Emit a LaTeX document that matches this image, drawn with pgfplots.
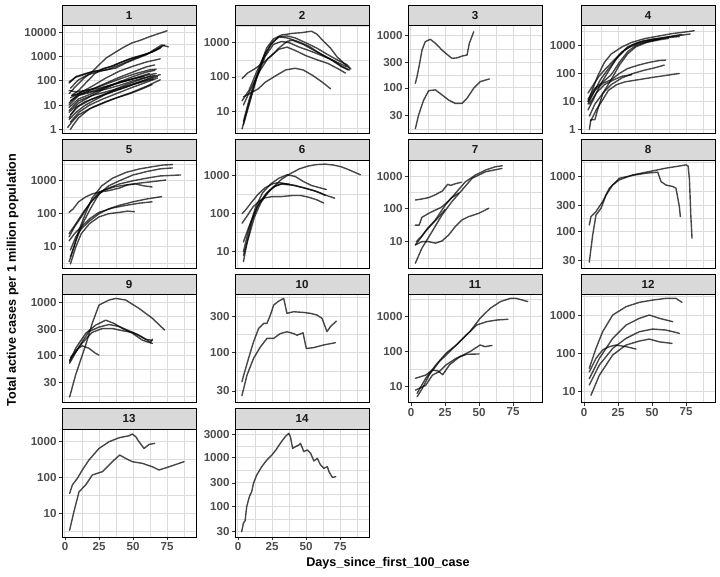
\documentclass[border=0pt]{standalone}
\usepackage{fontspec}
\setmainfont{Liberation Sans}
\usepackage{pgfplots}
\pgfplotsset{compat=1.18}

\definecolor{gridc}{RGB}{220,220,220}
\definecolor{tickgray}{RGB}{77,77,77}
\definecolor{stripfill}{RGB}{217,217,217}
\definecolor{tickmark}{RGB}{51,51,51}

\tikzset{ln/.style={draw=black, draw opacity=0.72, line width=1.4pt, line join=round, line cap=round, mark=none}}

\pgfplotsset{
  facet/.style={
    scale only axis, width=134pt, height=108pt, anchor=north west,
    xmin=-2.2, xmax=96.3,
    xtick={0,25,50,75}, minor xtick={12.5,37.5,62.5,87.5},
    xticklabels={},
    xmajorgrids, ymajorgrids, xminorgrids, yminorgrids,
    major grid style={draw=gridc, line width=1pt},
    minor grid style={draw=gridc, line width=0.5pt},
    axis line style={draw=black, line width=0.9pt},
    tick pos=left, tick align=outside,
    major tick length=3pt, minor tick length=0pt,
    xtick style={draw=none},
    ytick style={draw=tickmark, line width=0.8pt},
    ticklabel style={font=\fontsize{11.6}{12}\selectfont\bfseries, text=tickgray},
    yticklabel style={inner sep=0pt, xshift=-2.2pt},
    xticklabel style={inner sep=0pt, yshift=-2.2pt},
  },
  bottomrow/.style={
    xticklabels={0,25,50,75},
    xtick style={draw=tickmark, line width=0.8pt},
  },
  strip/.style={
    extra description/.code={
      \draw[fill=stripfill, draw=black, line width=0.9pt]
        (axis description cs:0,1) rectangle ([yshift=20.5pt]axis description cs:1,1);
      \node[font=\fontsize{11.6}{12}\selectfont\bfseries, text=black!90]
        at ([yshift=10.25pt]axis description cs:0.5,1) {#1};
    }
  },
}

\begin{document}
\begin{tikzpicture}
\useasboundingbox (0,0) rectangle (720pt,576pt);

% ---------------- row 1 ----------------
\begin{semilogyaxis}[facet, strip=1, at={(62pt,550.5pt)},
  ymin=0.676, ymax=19000,
  ytick={1,10,100,1000,10000}, yticklabels={1,10,100,1000,10000},
  minor ytick={3.162,31.62,316.2,3162}]
\addplot[ln] coordinates {(3,90)(8,140)(14,180)(20,240)(25,450)(30,850)(37,1500)(43,2400)(49,3600)(55,4600)(62,6500)(68,8500)(73,10500)(75,11500)};
\addplot[ln] coordinates {(3,80)(8,150)(15,200)(22,250)(30,280)(37,330)(45,550)(52,800)(60,1200)(66,2000)(71,3000)(76,2500)};
\addplot[ln] coordinates {(4,50)(10,110)(17,180)(25,240)(32,300)(40,450)(48,700)(55,1000)(63,1500)(70,2300)(73,3000)};
\addplot[ln] coordinates {(3,30)(8,60)(14,130)(20,230)(26,280)(33,380)(40,550)(47,780)(54,1000)(61,1300)(67,1900)(71,2600)};
\addplot[ln] coordinates {(5,25)(10,40)(16,90)(22,200)(28,320)(35,400)(42,600)(50,900)(58,1200)(65,1600)(70,2200)};
\addplot[ln] coordinates {(3,12)(10,30)(20,60)(30,130)(40,250)(50,400)(60,600)(70,800)};
\addplot[ln] coordinates {(3,10)(10,25)(20,45)(30,80)(40,140)(50,230)(60,380)(66,450)};
\addplot[ln] coordinates {(4,20)(12,35)(22,50)(32,80)(42,130)(52,200)(62,280)(67,300)};
\addplot[ln] coordinates {(3,5)(10,12)(20,25)(30,50)(40,90)(50,150)(60,230)(66,270)};
\addplot[ln] coordinates {(3,3)(8,8)(15,14)(25,22)(35,35)(45,55)(55,90)(65,150)(70,180)};
\addplot[ln] coordinates {(4,2)(10,5)(18,10)(28,18)(38,30)(48,50)(58,80)(68,130)};
\addplot[ln] coordinates {(2,1.2)(5,2)(10,4)(20,8)(30,14)(40,22)(50,35)(60,60)(70,110)};
\addplot[ln] coordinates {(3,6)(10,15)(20,25)(30,35)(40,50)(50,75)(60,110)(68,150)};
\addplot[ln] coordinates {(4,15)(10,25)(20,35)(30,45)(40,65)(50,100)(60,140)(66,170)};
\addplot[ln] coordinates {(5,25)(12,30)(22,40)(32,60)(42,90)(52,130)(62,180)(67,200)};
\addplot[ln] coordinates {(3,8)(10,18)(20,30)(30,55)(40,90)(50,120)(58,150)};
\addplot[ln] coordinates {(4,4)(10,9)(20,18)(30,30)(40,45)(50,70)(60,100)(65,120)};
\addplot[ln] coordinates {(3,2.5)(8,5)(15,10)(25,20)(35,40)(45,70)(55,110)(63,160)};
\addplot[ln] coordinates {(4,1)(6,1.5)(10,3)(18,7)(28,12)(38,20)(48,30)(58,50)(64,70)};
\addplot[ln] coordinates {(3,40)(8,35)(15,40)(25,50)(35,70)(45,100)(55,150)(62,200)};
\end{semilogyaxis}

\begin{semilogyaxis}[facet, strip=2, at={(235pt,550.5pt)},
  ymin=2.19, ymax=3236,
  ytick={10,100,1000}, yticklabels={10,100,1000},
  minor ytick={3.162,31.62,316.2,3162}]
\addplot[ln] coordinates {(4,5)(8,20)(12,70)(17,250)(21,700)(26,1300)(32,1700)(40,1900)(47,2000)(54,2200)(58,1800)(63,1100)(68,700)(73,380)(78,250)(82,180)};
\addplot[ln] coordinates {(3,3)(7,12)(12,60)(18,300)(24,900)(30,1500)(36,1600)(42,1400)(50,1000)(58,700)(66,450)(74,300)(80,230)(83,170)};
\addplot[ln] coordinates {(4,4)(9,20)(14,100)(20,400)(26,900)(32,1100)(38,1000)(45,750)(52,600)(60,450)(68,330)(76,200)(81,160)};
\addplot[ln] coordinates {(4,15)(10,50)(16,150)(22,350)(30,650)(36,750)(42,600)(50,420)(58,320)(66,250)(74,170)(79,130)};
\addplot[ln] coordinates {(4,26)(10,35)(15,45)(20,70)(28,110)(35,160)(42,180)(48,160)(55,110)(62,70)(68,45)};
\addplot[ln] coordinates {(3,90)(7,130)(12,170)(18,250)(24,400)(30,700)(36,1100)(40,1200)(48,900)(56,600)(64,400)(72,280)(80,200)};
\addplot[ln] coordinates {(3,20)(8,40)(14,150)(20,500)(26,1100)(30,1500)(36,1400)(44,1100)(52,800)(60,500)(70,300)(76,210)(82,160)};
\end{semilogyaxis}

\begin{semilogyaxis}[facet, strip=3, at={(408pt,550.5pt)},
  ymin=13.8, ymax=1514,
  ytick={30,100,300,1000}, yticklabels={30,100,300,1000},
  minor ytick={16.4,54.8,173.2,547.7}]
\addplot[ln] coordinates {(3.2,122)(4.4,163)(6,260)(8.1,520)(10.5,750)(14.2,830)(17.9,700)(22.8,520)(27,420)(30.1,363)(33.8,370)(37.5,400)(41.2,420)(42.9,700)(46.1,1150)};
\addplot[ln] coordinates {(3.2,17)(5.6,31)(9.3,59)(13,89)(17.9,92)(22.8,74)(27.7,59)(32.6,51)(37.5,51)(41.2,64)(46.1,99)(51,132)(57.6,148)};
\end{semilogyaxis}

\begin{semilogyaxis}[facet, strip=4, at={(581pt,550.5pt)},
  ymin=0.708, ymax=5248,
  ytick={1,10,100,1000}, yticklabels={1,10,100,1000},
  minor ytick={3.162,31.62,316.2,3162}]
\addplot[ln] coordinates {(3,10)(6,25)(10,80)(15,250)(20,500)(28,900)(35,1300)(45,1800)(55,2200)(65,2700)(75,3100)(81,3400)};
\addplot[ln] coordinates {(3,8)(7,20)(12,60)(18,150)(25,400)(32,900)(40,1300)(50,1700)(60,2000)(70,2300)(78,2600)};
\addplot[ln] coordinates {(3,12)(8,30)(14,50)(20,90)(26,250)(32,600)(38,1000)(45,1300)(55,1700)(65,2200)(72,2500)};
\addplot[ln] coordinates {(4,1)(5,2.2)(8,2.2)(10,5)(14,20)(20,60)(26,200)(32,500)(38,900)(46,1300)(55,1600)(62,1800)};
\addplot[ln] coordinates {(3,5)(7,12)(12,40)(18,120)(24,350)(30,700)(36,1100)(44,1500)(52,1700)(60,1900)(70,2100)};
\addplot[ln] coordinates {(3,20)(7,40)(11,80)(16,150)(22,300)(28,600)(34,900)(40,1200)(48,1500)(56,1700)};
\addplot[ln] coordinates {(3,10)(8,25)(14,45)(20,60)(26,100)(32,150)(40,200)(48,250)(55,290)(60,300)};
\addplot[ln] coordinates {(4,3)(8,8)(14,20)(20,40)(28,70)(36,100)(44,130)(52,160)(59,200)};
\addplot[ln] coordinates {(5,2)(9,5)(14,12)(18,25)(24,40)(30,50)(40,60)(50,72)(60,85)(70,100)};
\addplot[ln] coordinates {(4,8)(9,20)(15,40)(22,60)(28,80)(35,90)};
\end{semilogyaxis}

% ---------------- row 2 ----------------
\begin{semilogyaxis}[facet, strip=5, at={(62pt,416pt)},
  ymin=2.26, ymax=4266,
  ytick={10,100,1000}, yticklabels={10,100,1000},
  minor ytick={3.162,31.62,316.2,3162}]
\addplot[ln] coordinates {(3,3.5)(6,8)(10,30)(15,100)(20,300)(27,700)(35,1200)(45,1800)(55,2300)(65,2700)(72,3000)(79,3100)};
\addplot[ln] coordinates {(4,5)(8,15)(13,50)(19,150)(25,400)(32,700)(40,1000)(50,1500)(60,1900)(70,2300)(79,2450)};
\addplot[ln] coordinates {(3,20)(7,40)(12,80)(18,200)(25,450)(32,600)(40,800)(50,1000)(60,1200)(70,1400)(85,1500)};
\addplot[ln] coordinates {(3,25)(8,50)(14,120)(20,250)(28,500)(36,650)(45,750)(55,850)(65,950)(74,1050)};
\addplot[ln] coordinates {(3,110)(6,140)(10,230)(15,320)(20,400)(25,450)(32,500)(40,600)(46,750)(52,800)(58,700)(64,650)};
\addplot[ln] coordinates {(4,8)(8,20)(12,35)(18,60)(25,100)(32,140)(40,180)(50,230)(60,280)(71,330)};
\addplot[ln] coordinates {(3,15)(7,25)(12,40)(18,70)(25,110)(35,150)(45,180)(55,210)(64,230)};
\addplot[ln] coordinates {(4,3)(8,10)(12,25)(18,50)(25,80)(32,100)(40,110)(46,120)(51,115)};
\end{semilogyaxis}

\begin{semilogyaxis}[facet, strip=6, at={(235pt,416pt)},
  ymin=3.72, ymax=2570,
  ytick={10,100,1000}, yticklabels={10,100,1000},
  minor ytick={3.162,31.62,316.2,3162}]
\addplot[ln] coordinates {(4,5.5)(7,20)(10,60)(14,150)(20,300)(26,500)(32,800)(38,1100)(45,1500)(52,1800)(58,1950)(64,2000)(70,1900)(76,1700)(82,1400)(90,1050)};
\addplot[ln] coordinates {(4,10)(8,40)(13,150)(18,350)(24,600)(30,850)(36,1050)(42,950)(48,700)(54,550)(60,480)(65,430)};
\addplot[ln] coordinates {(3,100)(6,130)(10,200)(15,330)(20,480)(26,620)(31,650)(36,600)(42,550)(50,460)(58,380)(65,300)(71,255)};
\addplot[ln] coordinates {(4,18)(8,45)(12,100)(16,200)(21,350)(26,500)(32,600)(40,560)(48,480)(56,400)(62,330)(64,300)};
\addplot[ln] coordinates {(3,56)(7,90)(11,150)(16,220)(20,260)(25,280)(32,280)(40,300)(46,300)(52,270)(58,230)(63,190)};
\addplot[ln] coordinates {(4,8)(8,25)(12,80)(17,200)(23,400)(28,550)(33,620)(38,590)};
\end{semilogyaxis}

\begin{semilogyaxis}[facet, strip=7, at={(408pt,416pt)},
  ymin=1.57, ymax=3090,
  ytick={10,100,1000}, yticklabels={10,100,1000},
  minor ytick={3.162,31.62,316.2,3162}]
\addplot[ln] coordinates {(3.2,186)(8,200)(13,220)(18,270)(23,350)(27,560)(29,520)(33,590)(37,650)};
\addplot[ln] coordinates {(3.2,7.9)(10.5,20)(17.9,46)(25.2,131)(32.6,296)(40,670)(47.3,1070)(54.7,1520)(62,1920)(67,2060)};
\addplot[ln] coordinates {(3.2,2.2)(8,6.3)(15.4,20)(22.8,65)(30,165)(37.5,375)(44.9,850)(54.7,1350)(66.9,1710)};
\addplot[ln] coordinates {(3.2,32)(6,32)(8,55)(13,73)(18,92)(22,110)(26,150)(30,220)(35,300)};
\addplot[ln] coordinates {(3.2,8)(8,10)(13,10)(18,9)(22.8,10.5)(27.7,16)(32.6,29)(37.5,46)(42.4,58)(49.8,73)(57.1,104)};
\addplot[ln] coordinates {(4,10)(8,15)(12,25)(17,40)(21,60)(25,95)};
\end{semilogyaxis}

\begin{semilogyaxis}[facet, strip=8, at={(581pt,416pt)},
  ymin=21.9, ymax=1995,
  ytick={30,100,300,1000}, yticklabels={30,100,300,1000},
  minor ytick={54.8,173.2,547.7,1826}]
\addplot[ln] coordinates {(3.9,28)(6.4,87)(8.8,200)(12.5,265)(16.2,460)(21,700)(26,870)(35.8,1070)(48,1230)(60.3,1420)(70,1550)(75,1630)(76.5,1550)(77.5,900)(78.5,200)(79.4,76)};
\addplot[ln] coordinates {(3.9,132)(5.1,187)(8.8,231)(13.7,350)(18.6,614)(26,930)(35.8,1050)(45.6,1150)(54.2,1200)(56.6,810)(60.3,700)(65.2,660)(67.6,614)(70.1,285)(70.8,187)};
\end{semilogyaxis}

% ---------------- row 3 ----------------
\begin{semilogyaxis}[facet, strip=9, at={(62pt,281.5pt)},
  ymin=12.6, ymax=1413,
  ytick={30,100,300,1000}, yticklabels={30,100,300,1000},
  minor ytick={16.4,54.8,173.2,547.7}]
\addplot[ln] coordinates {(3.4,16)(7.8,42)(15.2,155)(20,400)(25,890)(32.4,1110)(37.3,1190)(44.6,1110)(54.4,770)(64.2,500)(73.3,298)};
\addplot[ln] coordinates {(3.4,75)(7.8,134)(15.2,258)(22.5,370)(29.9,460)(36,400)(42.2,320)(49.5,260)(56.9,192)(64.2,166)};
\addplot[ln] coordinates {(3.4,70)(10,140)(17.6,280)(25,340)(32.4,380)(39.7,350)(47,290)(54.4,240)(63,175)(64.2,200)};
\addplot[ln] coordinates {(3.4,80)(12.7,170)(20,270)(27.5,320)(34.8,320)(42.2,290)(49.5,270)(59.3,200)(64.2,190)};
\addplot[ln] coordinates {(4,90)(9,130)(12.7,150)(17.6,135)(22,110)(25,100)};
\end{semilogyaxis}

\begin{semilogyaxis}[facet, strip=10, at={(235pt,281.5pt)},
  ymin=21.0, ymax=597,
  ytick={30,100,300}, yticklabels={30,100,300},
  minor ytick={16.4,54.8,173.2,547.7}]
\addplot[ln] coordinates {(2.9,40)(4.2,49)(7.8,83)(11.5,139)(15.2,209)(18.9,244)(21.3,244)(23.8,316)(26.2,430)(29.9,486)(33.6,528)(36,333)(40.9,350)(48.3,342)(53.2,333)(58.1,316)(61.8,284)(65.4,189)(67.9,220)(72.3,262)};
\addplot[ln] coordinates {(2.9,26)(6.6,49)(11.5,83)(16.4,117)(21.3,153)(26.2,153)(31.1,178)(36,188)(40.9,178)(43.4,169)(47.8,182)(50.2,112)(55.6,115)(63,125)(71.6,134)};
\end{semilogyaxis}

\begin{semilogyaxis}[facet, strip=11, bottomrow, at={(408pt,281.5pt)},
  ymin=3.55, ymax=4266,
  ytick={10,100,1000}, yticklabels={10,100,1000},
  minor ytick={31.62,316.2,3162}]
\addplot[ln] coordinates {(4.5,5.2)(8.3,8.9)(13.3,21.5)(20.8,52)(28.3,100)(35.8,193)(43.3,373)(50.8,896)(58.3,1730)(65.8,2680)(73.3,3340)(77,3340)(85.8,2680)};
\addplot[ln] coordinates {(4.5,6.5)(10.8,17.4)(18.3,42)(25.8,90)(33.3,155)(40.8,300)(48.3,578)(55.8,720)(63.3,800)(71.3,840)};
\addplot[ln] coordinates {(3.3,17.4)(10.8,21.5)(15.8,30)(20,28)(23.3,22)(28.3,42)(35.8,72)(43.3,100)(50.8,155)(54.5,139)(59.5,150)};
\addplot[ln] coordinates {(3.3,8)(10.8,11)(15.8,21.5)(20.8,27)(25.8,42)(33.3,65)(40.8,84)(50,86)};
\end{semilogyaxis}

\begin{semilogyaxis}[facet, strip=12, bottomrow, at={(581pt,281.5pt)},
  ymin=5.25, ymax=3428,
  ytick={10,100,1000}, yticklabels={10,100,1000},
  minor ytick={31.62,316.2,3162}]
\addplot[ln] coordinates {(3.9,41)(8.8,135)(13.7,367)(21.1,1000)(30.9,1650)(40.7,2140)(50.5,2460)(60.3,2720)(67.6,2720)(72,2140)};
\addplot[ln] coordinates {(3.9,22)(11.3,74)(21.1,247)(30.9,548)(40.7,820)(48,1000)(55.4,820)(65.2,670)};
\addplot[ln] coordinates {(3.9,15)(11.3,50)(21.1,135)(30.9,247)(40.7,367)(50.5,431)(60.3,406)(70.1,333)};
\addplot[ln] coordinates {(5.1,8.1)(11.3,27)(21.1,91)(30.9,165)(40.7,210)(48,236)(55.4,200)(64.7,182)};
\addplot[ln] coordinates {(3.9,33)(8.8,74)(13.7,123)(18.6,150)(23.5,165)(30.9,150)(38.2,130)};
\end{semilogyaxis}

% ---------------- row 4 ----------------
\begin{semilogyaxis}[facet, strip=13, bottomrow, at={(62pt,147pt)},
  ymin=2.19, ymax=2265,
  ytick={10,100,1000}, yticklabels={10,100,1000},
  minor ytick={3.162,31.62,316.2}]
\addplot[ln] coordinates {(3.4,36)(5.4,62)(9.1,95)(12.7,162)(17.6,308)(25,650)(32.4,1000)(39.7,1290)(47.1,1470)(49.5,1640)(52,1380)(54.4,1000)(58.1,650)(61.8,840)(65.9,900)};
\addplot[ln] coordinates {(3.4,3.4)(6.6,11.3)(10.3,40)(15.2,62)(20.1,118)(27.5,146)(34.8,277)(40.2,425)(44.6,342)(49.5,277)(56.9,249)(64.2,200)(69.1,162)(76.5,200)(87.5,277)};
\end{semilogyaxis}

\begin{semilogyaxis}[facet, strip=14, bottomrow, at={(235pt,147pt)},
  ymin=23.3, ymax=3855,
  ytick={30,100,300,1000,3000}, yticklabels={30,100,300,1000,3000},
  minor ytick={54.8,173.2,547.7,1732}]
\addplot[ln] coordinates {(2.7,30)(4,45)(5.2,50)(6.4,98)(8.4,158)(10.1,200)(11.4,296)(13.8,438)(17.5,650)(21.2,890)(24.9,1130)(27.9,1430)(31.1,1960)(34.8,2690)(37.3,3140)(38.5,2690)(40.2,1540)(42.2,1670)(44.7,1810)(45.9,1960)(48.4,1320)(50.9,1430)(53.3,1230)(55.8,850)(58.3,960)(60.7,700)(63.2,600)(65.7,650)(66.9,510)(69.4,390)(71.9,405)};
\end{semilogyaxis}

% axis titles
\node[rotate=90, font=\fontsize{12.6}{14}\selectfont\bfseries] at (12.5pt,296pt) {Total active cases per 1 million population};
\node[font=\fontsize{12.6}{14}\selectfont\bfseries] at (388pt,13pt) {Days\_since\_first\_100\_case};
\end{tikzpicture}
\end{document}
